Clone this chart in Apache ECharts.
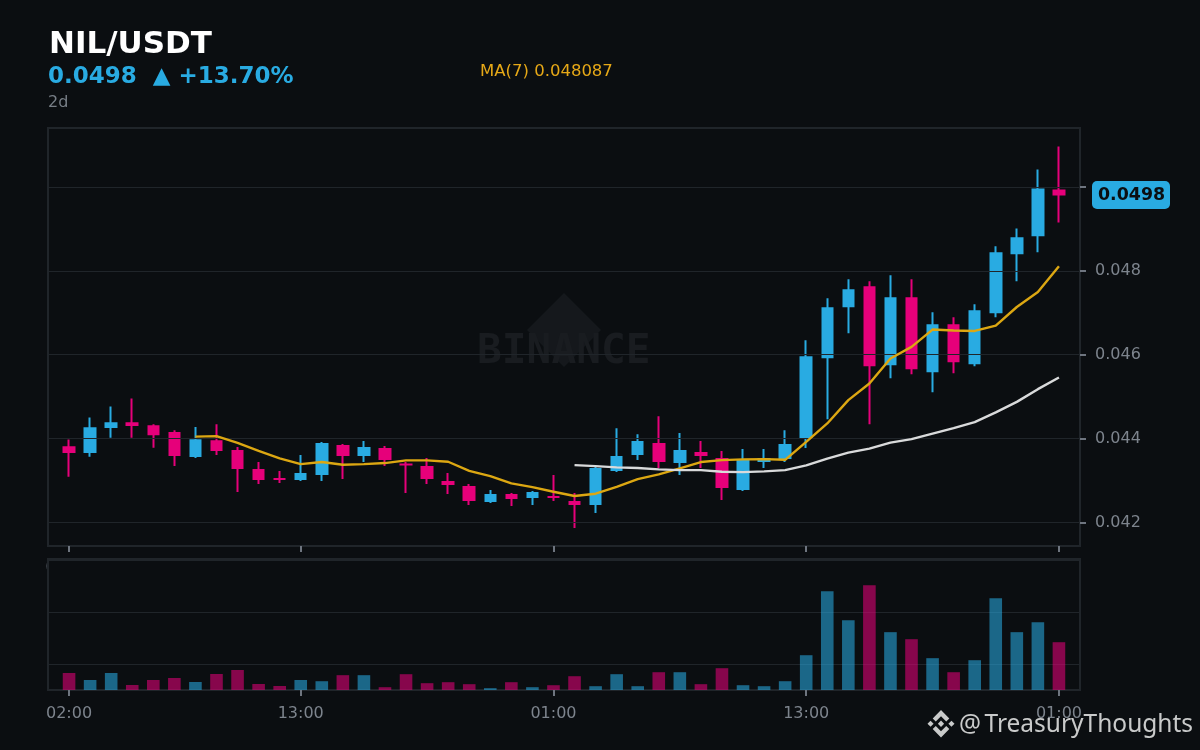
<!DOCTYPE html>
<html><head><meta charset="utf-8">
<style>html,body{margin:0;padding:0;background:#0b0e11}#c{width:1200px;height:750px}</style>
<script src="https://cdn.jsdelivr.net/npm/echarts@6/dist/echarts.min.js"></script>
</head><body><div id="c"></div>
<script>
const times = ['02:00','','','','','','','','','','','13:00','','','','','','','','','','','','01:00','','','','','','','','','','','','13:00','','','','','','','','','','','','01:00'];
const opens = [0.043797,0.043679,0.044274,0.044369,0.044297,0.044131,0.043584,0.043940,0.043702,0.043250,0.043037,0.043036,0.043155,0.043821,0.043607,0.043750,0.043382,0.043321,0.042964,0.042845,0.042512,0.042655,0.042607,0.042608,0.042488,0.042441,0.043250,0.043631,0.043869,0.043441,0.043655,0.043512,0.042798,0.043465,0.043536,0.044036,0.045941,0.047155,0.047607,0.045774,0.047345,0.045607,0.046702,0.045798,0.047012,0.048417,0.048846,0.049917];
const closes = [0.043679,0.044250,0.044369,0.044322,0.044107,0.043607,0.043964,0.043726,0.043298,0.043036,0.043035,0.043155,0.043869,0.043607,0.043774,0.043512,0.043380,0.043060,0.042917,0.042536,0.042655,0.042584,0.042702,0.042606,0.042441,0.043274,0.043559,0.043917,0.043465,0.043702,0.043607,0.042845,0.043464,0.043512,0.043845,0.045940,0.047107,0.047536,0.045750,0.047345,0.045679,0.046702,0.045846,0.047036,0.048417,0.048774,0.049940,0.049822];
const lows = [0.043090,0.043567,0.044019,0.044019,0.043781,0.043345,0.043536,0.043607,0.042726,0.042917,0.042940,0.042988,0.042988,0.043036,0.043441,0.043345,0.042702,0.042917,0.042679,0.042417,0.042464,0.042393,0.042417,0.042512,0.041869,0.042226,0.043202,0.043488,0.043298,0.043131,0.043298,0.042536,0.042750,0.043298,0.043441,0.043774,0.044464,0.046512,0.044345,0.045441,0.045536,0.045107,0.045560,0.045726,0.046893,0.047750,0.048441,0.049155];
const highs = [0.043981,0.044505,0.044767,0.044957,0.044345,0.044202,0.044274,0.044345,0.043798,0.043441,0.043226,0.043607,0.043917,0.043869,0.043941,0.043821,0.043441,0.043536,0.043179,0.042917,0.042774,0.042702,0.042750,0.043131,0.042702,0.043345,0.044250,0.044107,0.044536,0.044131,0.043941,0.043702,0.043750,0.043750,0.044202,0.046345,0.047345,0.047798,0.047750,0.047893,0.047798,0.047012,0.046893,0.047202,0.048583,0.049012,0.050417,0.050964];
const volumes = [0.827,0.692,0.827,0.596,0.692,0.731,0.654,0.808,0.885,0.615,0.577,0.692,0.669,0.785,0.785,0.554,0.804,0.631,0.650,0.612,0.535,0.650,0.554,0.592,0.765,0.573,0.804,0.573,0.842,0.842,0.612,0.919,0.592,0.573,0.669,1.169,2.400,1.842,2.515,1.612,1.477,1.112,0.842,1.073,2.265,1.612,1.804,1.419];
const ma7 = ['-','-','-','-','-','-',0.044048,0.044060,0.043900,0.043710,0.043529,0.043393,0.043441,0.043376,0.043393,0.043417,0.043481,0.043481,0.043448,0.043233,0.043107,0.042933,0.042845,0.042733,0.042631,0.042686,0.042852,0.043036,0.043148,0.043291,0.043441,0.043488,0.043505,0.043512,0.043495,0.043924,0.044362,0.044917,0.045314,0.045910,0.046186,0.046600,0.046576,0.046567,0.046695,0.047138,0.047495,0.048107];
const ma25 = ['-','-','-','-','-','-','-','-','-','-','-','-','-','-','-','-','-','-','-','-','-','-','-','-',0.043369,0.043345,0.043314,0.043298,0.043267,0.043250,0.043250,0.043210,0.043202,0.043219,0.043250,0.043362,0.043524,0.043667,0.043762,0.043905,0.043988,0.044119,0.044250,0.044393,0.044624,0.044876,0.045179,0.045457];
const priceTicks = [0.042,0.044,0.046,0.048,0.050];
const priceLabels = [0.042,0.044,0.046,0.048];
const volumeTicks = [1,2,3];
const symbol = 'NIL/USDT', lastPrice = '0.0498', changeText = '0.0498  ▲ +13.70%', frameText = '2d', maText = 'MA(7) 0.048087', creditAt = '@', credit = 'TreasuryThoughts';

const BG='#0b0e11', UP='#29abe2', DOWN='#e6007a', LINE='#20252a', TICK='#6e757f', TXT='#7d848d', FONT='"DejaVu Sans"';
const pad = a => ['-', ...a, '-'];
const cats = ['', ...times, ''];
const candles = [['-','-','-','-'], ...opens.map((o,i)=>[o,closes[i],lows[i],highs[i]]), ['-','-','-','-']];
const volData = pad(volumes.map((v,i)=>({value:v,itemStyle:{color:closes[i]>=opens[i]?UP:DOWN,opacity:.57}})));
const tickFn = (i,v)=>v!=='';
const logoParts=[
 [[38.73,53.2],[63.32,28.62],[87.92,53.22],[102.22,38.91],[63.32,0],[24.43,38.88]],
 [[38.73,73.41],[63.32,98],[87.92,73.4],[102.23,87.69],[63.33,126.6],[24.42,87.72]],
 [[0,63.31],[14.3,49],[28.61,63.31],[14.3,77.61]],
 [[98,63.31],[112.3,49],[126.61,63.3],[112.3,77.62]],
 [[63.32,48.78],[77.83,63.3],[63.32,77.78],[48.81,63.28]]
];

const chart = echarts.init(document.getElementById('c'), null, {renderer:'canvas',width:1200,height:750});
chart.setOption({
  animation:false, backgroundColor:BG,
  grid:[
    {left:48,right:120,top:128,bottom:204,show:true,borderColor:LINE,borderWidth:2,backgroundColor:'transparent'},
    {left:48,right:120,top:559,bottom:60,show:true,borderColor:LINE,borderWidth:2,backgroundColor:'transparent'}
  ],
  xAxis:[
    {type:'category',gridIndex:0,data:cats,boundaryGap:false,axisLine:{show:false},axisLabel:{show:false},
     axisTick:{show:true,length:6,interval:tickFn,lineStyle:{color:TICK,width:2}},splitLine:{show:false}},
    {type:'category',gridIndex:1,data:cats,boundaryGap:false,axisLine:{show:false},
     axisLabel:{show:true,interval:tickFn,color:TXT,fontFamily:FONT,fontSize:16,margin:16,hideOverlap:false},
     axisTick:{show:true,length:6,interval:tickFn,lineStyle:{color:TICK,width:2}},splitLine:{show:false}}
  ],
  yAxis:[
    {type:'value',gridIndex:0,position:'right',min:0.04144,max:0.051405,z:3,scale:true,
     axisLine:{show:false},axisTick:{show:true,length:6,lineStyle:{color:TICK,width:2},customValues:priceTicks},
     axisLabel:{color:TXT,fontFamily:FONT,fontSize:16,margin:15,padding:[2,0,0,0],formatter:v=>v.toFixed(3),customValues:priceLabels},
     splitLine:{show:true,lineStyle:{color:LINE,width:1}}},
    {type:'value',gridIndex:1,position:'left',min:0.5,max:3.019,z:1,
     axisLine:{show:false},axisTick:{show:false,customValues:volumeTicks},axisLabel:{show:false,customValues:volumeTicks},
     splitLine:{show:true,lineStyle:{color:LINE,width:1}}}
  ],
  series:[
    {type:'candlestick',xAxisIndex:0,yAxisIndex:0,data:candles,barWidth:11,z:2,
     itemStyle:{color:UP,color0:DOWN,borderColor:UP,borderColor0:DOWN,borderWidth:2}},
    {type:'line',xAxisIndex:0,yAxisIndex:0,data:pad(ma7),showSymbol:false,z:4,lineStyle:{color:'#dca712',width:2.4}},
    {type:'line',xAxisIndex:0,yAxisIndex:0,data:pad(ma25),showSymbol:false,z:4,lineStyle:{color:'#d9dadb',width:2.4}},
    {type:'bar',xAxisIndex:1,yAxisIndex:1,data:volData,barWidth:12.6,z:2}
  ],
  graphic:[
    {type:'text',z:-2,x:45.5,y:560,style:{text:'0',font:'16px '+FONT,fill:'#6e757f'}},
    {type:'rect',z:-1,shape:{x:48,y:552,width:30,height:30},style:{fill:BG}},
    {type:'polygon',z:1,shape:{points:[[564,293],[601,330],[564,367],[527,330]]},style:{fill:'#15181c'}},
    {type:'text',z:1,x:477,y:332,style:{text:'BINANCE',font:'bold 41.2px "DejaVu Sans Mono"',fill:'#191c20'}},
    {type:'text',z:20,x:49,y:29,style:{text:symbol,font:'bold 31px '+FONT,fill:'#ffffff'}},
    {type:'text',z:20,x:48,y:66,style:{text:changeText,font:'bold 23px '+FONT,fill:UP}},
    {type:'text',z:20,x:48,y:95,style:{text:frameText,font:'16px '+FONT,fill:'#777e86'}},
    {type:'text',z:20,x:480,y:63,style:{text:maText,font:'16.5px '+FONT,fill:'#e6a817'}},
    {type:'rect',z:20,shape:{x:1092,y:181,width:78,height:28,r:5},style:{fill:UP}},
    {type:'text',z:21,x:1098,y:187,style:{text:lastPrice,font:'bold 17.4px '+FONT,fill:BG}},
    {type:'group',z:20,x:927.5,y:710,scaleX:0.2133,scaleY:0.2172,
     children:logoParts.map(p=>({type:'polygon',z:20,shape:{points:p},style:{fill:'#c9caca'}}))},
    {type:'text',z:20,x:959,y:713,style:{text:creditAt,font:'24.5px "Noto Sans"',fill:'#c9caca'}},
    {type:'text',z:20,x:984.5,y:713,style:{text:credit,font:'24.5px "Noto Sans"',fill:'#c9caca'}}
  ]
});
</script></body></html>
